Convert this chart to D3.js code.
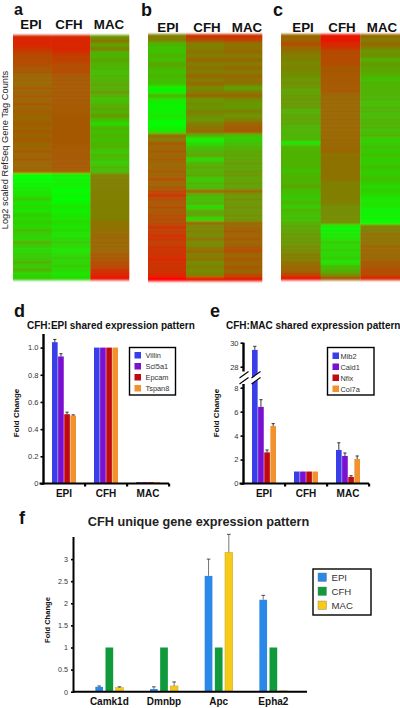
<!DOCTYPE html>
<html><head><meta charset="utf-8">
<script src="https://cdn.jsdelivr.net/npm/d3@7/dist/d3.min.js"></script>
<style>html,body{margin:0;padding:0;background:#fff}svg{display:block}text{font-family:"Liberation Sans",Arial,sans-serif}</style>
</head><body><svg id="c" width="400" height="708"></svg>
<script>
// Heatmap rows: 0 = full green, 5 = olive, 10 = full red
const conditions=["EPI","CFH","MAC"];
const aEPI=[8.5,8.5,8.5,8,7.5,7,7,7,6.5,6.5,6,6,6,6.5,6,6.5,6,6.5,6,6.5,6,6,6.5,6,6.5,6,6.5,6,6,6.5,6,6.5,6,6,6.5,0,0,.5,.5,1,1,2,1,1.5,1,2,1.5,2,1.5,2.5,2,1.5,3,2,1.5,2,2,3,2,3,1.5,2];
const aCFH=[8.5,8.5,8.5,8.5,8,7.5,7.5,7,7,7,6.5,6.5,6.5,6.5,6.5,6.5,6.5,6.5,6.5,6.5,6.5,6.5,6.5,6.5,6.5,6.5,6.5,6.5,6.5,6.5,6.5,6.5,6.5,6.5,6.5,.5,.5,.5,.5,0,.5,0,.5,1,.5,1,1,1.5,1,1.5,1,1.5,2,1.5,1,1.5,2,1.5,2,1.5,1,1.5];
const aMAC=[4,5.5,3.5,5,3,3,3.5,3,3,2.5,3,3,3.5,3,4,3,2.5,3,3.5,3,4,2.5,1.5,3,2.5,3,2.5,3,3,2,3,2.5,2,3,2.5,5,5,5,5,5,5,5,5,5,5,5,5,5.5,5.5,5.5,6,6,6,6,6,6.5,6.5,7,7,8,8.5,9];
const bEPI=[5,5,3,2.5,2.5,3,2.5,3.5,3,2.5,3,2.5,2.5,.5,.5,3,1,.5,.5,.5,1,.5,0,.5,1,6,5,6.5,6,6.5,6,6.5,6,6,6.5,6,7,6,6.5,7,8,7,6.5,7,6.5,7,7,7,8,7.5,8,8,7.5,8,8,8,8.5,8,8,8,8.5,10];
const bCFH=[8,7,5,5,5.5,5,6,5,5.5,5,6,5,6,4.5,5,6,4,4.5,4,5,4.5,4,5,5.5,6,3,.5,1.5,2.5,3,3.5,1.5,3,3.5,3,3.5,2,3,2.5,6,3,2.5,3,1.5,3.5,3.5,1.5,6,4.5,5,4.5,5.5,4.5,5,6,5,5.5,4.5,5,4.5,5,9];
const bMAC=[8,7.5,5.5,5.5,6,5,6,5,6,5,6,5.5,5.5,3.5,5,6,4.5,4,4,5,4,5,6,6.5,6.5,2.5,2,2.5,3,3.5,3.5,3.5,4,3.5,4,4,3.5,4,3.5,6,4,4.5,4,4.5,4,4.5,4,6,6,6.5,6,6.5,6,6.5,7,6,6.5,6,6.5,6,7,9];
const cEPI=[6,6,7,6,5.5,5,5,4.5,5,4.5,4.5,4,4.5,4,3.5,4,4,4,4,3,3.5,3.5,3.5,3,3,3,3,1,3,3,3,3,3,3,2.5,3,3,3,3.5,2.5,2.5,2,3,2,3,2.5,2.5,3,3.5,3.5,4,4,4,4.5,4.5,5,5,5.5,6,6,7,9];
const cCFH=[9,9,8.5,8,7,7,7,7,6.5,6.5,6.5,6.5,6.5,6.5,6.5,6,6,6,6,6,6,6,6,6,6,6,6,6,6,6,5.5,5.5,5.5,5.5,5.5,5.5,5.5,5,5,5,5,5,5,4.5,4.5,4.5,4.5,4.5,.5,.5,1,1,2,1.5,2,1.5,2,1,2.5,3,4,6.5];
const cMAC=[6,5,6,5,4,4.5,3,4,3.5,3.5,3,2.5,3,3,3,3,3,2.5,3,3,2.5,3,3,3,2.5,3,2,2,2.5,2,2.5,2,2,2.5,2,2,2.5,2,1.5,2,1.5,1,1,1,.5,.5,.5,0,5,5,5.5,5.5,5.5,6,6,6,6,6.5,6.5,7,7,8.5];

// Panel d
const dGenes=["Villin","Scl5a1","Epcam","Tspan8"];
const dVillin=[1.04,1,.01], dScl5a1=[.935,1,.01], dEpcam=[.51,1,.01], dTspan8=[.5,1,.01];
const dVillinTop=[1.06,1,.01], dScl5a1Top=[.955,1,.01], dEpcamTop=[.525,1,.01], dTspan8Top=[.505,1,.01];
const dTicks=[0,.2,.4,.6,.8,1];
const dTickLabels=["0","0.2","0.4","0.6","0.8","1.0"];
// Panel e
const eGenes=["Mib2","Cald1","Nfix","Col7a"];
const eMib2=[29.4,1,2.8], eCald1=[6.4,1,2.3], eNfix=[2.6,1,.55], eCol7a=[4.8,1,2.05];
const eMib2Top=[29.7,1,3.4], eCald1Top=[7,1,2.55], eNfixTop=[2.8,1,.65], eCol7aTop=[5,1,2.3];
const eTicks=[0,2,4,6,8,28,30];
// Panel f
const fGenes=["Camk1d","Dmnbp","Apc","Epha2"];
const fEPI=[.11,.06,2.62,2.08], fCFH=[1,1,1,1], fMAC=[.09,.13,3.15,.02];
const fEPITop=[.13,.11,3,2.18], fMACTop=[.11,.22,3.56,.02];
const fTicks=[0,.5,1,1.5,2,2.5,3];

const svg=d3.select("#c");
svg.append("defs").append("filter").attr("id","soft")
  .attr("filterUnits","userSpaceOnUse").attr("x",0).attr("y",0).attr("width",400).attr("height",300)
  .append("feGaussianBlur").attr("stdDeviation","0.3 1");
const heat=d3.scaleLinear().domain([0,5,10]).range(["#00ff00","#807f00","#ff0000"]);
const heatLayer=svg.append("g").attr("filter","url(#soft)");

function txt(x,y,s,size,o={}){
  return svg.append("text").attr("x",x).attr("y",y).text(s)
    .attr("font-size",size).attr("font-weight",o.w||"normal").attr("fill",o.c||"#111")
    .attr("text-anchor",o.a||"start")
    .attr("transform",o.r?`rotate(${o.r} ${x} ${y})`:null);
}

function heatmap(cols,x0,x1,y0,y1,labelX,labelY){
  const x=d3.scaleBand().domain(conditions).range([x0,x1]);
  const y=d3.scaleBand().domain(d3.range(cols[0].length)).range([y0,y1]);
  cols.forEach((col,ci)=>{
    heatLayer.append("g").selectAll("rect").data(col).join("rect")
      .attr("x",x(conditions[ci])).attr("width",x.bandwidth()+.3)
      .attr("y",(d,i)=>y(i)).attr("height",y.bandwidth()+.3)
      .attr("fill",d=>heat(d));
    txt(labelX[ci],labelY,conditions[ci],13.3,{w:"bold",a:"middle"});
  });
}
heatmap([aEPI,aCFH,aMAC],13,129,35,280,[31,69,109],29);
heatmap([bEPI,bCFH,bMAC],148,262,34,281,[168,207,247],31.5);
heatmap([cEPI,cCFH,cMAC],281,400,34,280,[303,342,382],31.5);

txt(14,14.5,"a",16,{w:"bold"});
txt(141,16,"b",18,{w:"bold"});
txt(273,16,"c",18,{w:"bold"});
txt(8,150,"Log2 scaled RefSeq Gene Tag Counts",9.3,{r:-90,a:"middle",c:"#222"});

const geneColors=["#3a3ee8","#7a10d0","#c00a12","#f2922e"];

function styleAxis(g,size){
  g.select(".domain").remove();
  g.selectAll(".tick line").attr("stroke","#000").attr("stroke-width",1.6);
  g.selectAll(".tick text").attr("font-size",size).attr("fill","#333");
}

function boxLegend(x0,y0,w,h,labels,colors,sw,fs,tx,rowStep,first,stroke){
  svg.append("rect").attr("x",x0).attr("y",y0).attr("width",w).attr("height",h)
    .attr("fill","#fff").attr("stroke","#000").attr("stroke-width",1.4);
  labels.forEach((l,i)=>{
    svg.append("rect").attr("x",x0+5).attr("y",y0+first+i*rowStep).attr("width",sw).attr("height",sw)
      .attr("fill",colors[i]).attr("stroke",stroke||"none").attr("stroke-width",.4);
    txt(tx,y0+first+i*rowStep+sw-.5,l,fs,{c:"#333"});
  });
}

function groupedBars(seriesVals,seriesTops,xRange,y){
  const x=d3.scaleBand().domain(conditions).range(xRange);
  const inner=d3.scaleBand().domain(d3.range(4)).range([x.bandwidth()/2-12,x.bandwidth()/2+12]).paddingInner(.08);
  seriesVals.forEach((vals,si)=>{
    const g=svg.append("g");
    g.selectAll("rect").data(vals).join("rect")
      .attr("x",(d,i)=>x(conditions[i])+inner(si)).attr("width",inner.bandwidth())
      .attr("y",d=>y(d)).attr("height",d=>y(0)-y(d)).attr("fill",geneColors[si]);
    seriesTops[si].forEach((t,i)=>{
      if(t<=vals[i])return;
      const cx=x(conditions[i])+inner(si)+inner.bandwidth()/2;
      g.append("path").attr("d",`M${cx},${y(vals[i])}V${y(t)}M${cx-1.6},${y(t)}H${cx+1.6}`)
        .attr("stroke","#222").attr("stroke-width",.9).attr("fill","none");
    });
  });
  return x;
}

function groupAxis(x,y,axisX,end){
  const g=svg.append("g").attr("transform",`translate(0,${y(0)})`)
    .call(d3.axisBottom(x).tickSize(0).tickPadding(6));
  g.select(".domain").remove();
  g.selectAll(".tick text").attr("font-size",10).attr("font-weight","bold").attr("fill","#111");
  svg.append("line").attr("x1",axisX-4).attr("x2",end).attr("y1",y(0)).attr("y2",y(0))
    .attr("stroke","#000").attr("stroke-width",2.2);
  x.domain().forEach(c=>{
    const b=x(c)+x.bandwidth();
    svg.append("rect").attr("x",b-1).attr("y",y(0)).attr("width",2.2).attr("height",3).attr("fill","#000");
  });
}

// Panel d
const yD=d3.scaleLinear().domain([0,1.1]).range([483.5,334]);
const xD=groupedBars([dVillin,dScl5a1,dEpcam,dTspan8],[dVillinTop,dScl5a1Top,dEpcamTop,dTspan8Top],[43,169],yD);
const gD=svg.append("g").attr("transform","translate(43.5,0)")
  .call(d3.axisLeft(yD).tickValues(dTicks).tickSize(3).tickPadding(2).tickFormat((d,i)=>dTickLabels[i]));
styleAxis(gD,7.5);
svg.append("line").attr("x1",43.5).attr("x2",43.5).attr("y1",yD(1.1)).attr("y2",yD(0)+1).attr("stroke","#000").attr("stroke-width",2.4);
groupAxis(xD,yD,43.5,169);
txt(14,317,"d",18,{w:"bold"});
txt(27,328.5,"CFH:EPI shared expression pattern",10,{w:"bold"});
txt(19,413,"Fold Change",8,{r:-90,a:"middle",w:"bold"});
boxLegend(129.5,347.5,46,47.5,dGenes,geneColors,6.5,7.4,145.5,11,4.5);

// Panel e
const yE=d3.scaleLinear().domain([0,8,8.3,27.6,28,30]).range([483.5,387.7,384,371.5,366.7,342.7]);
const xE=groupedBars([eMib2,eCald1,eNfix,eCol7a],[eMib2Top,eCald1Top,eNfixTop,eCol7aTop],[243,369],yE);
const gE=svg.append("g").attr("transform","translate(243.5,0)")
  .call(d3.axisLeft(yE).tickValues(eTicks).tickSize(3).tickPadding(2).tickFormat(d3.format("d")));
styleAxis(gE,7.5);
[[8.3,0],[27.6,30]].forEach(([a,b])=>{
  svg.append("line").attr("x1",243.5).attr("x2",243.5).attr("y1",yE(a)).attr("y2",a<10?yE(0)+1:yE(b))
    .attr("stroke","#000").attr("stroke-width",2.4);
});
[[239.5,248.5],[251.5,260.5]].forEach(([x1,x2])=>{
  svg.append("path").attr("d",`M${x1},${yE(27.6)+6.5}L${x2},${yE(27.6)}L${x2},${yE(8.3)-6.5}L${x1},${yE(8.3)}Z`)
    .attr("fill","#fff");
  [[yE(27.6)+6.5,yE(27.6)],[yE(8.3),yE(8.3)-6.5]].forEach(([a,b])=>{
    svg.append("line").attr("x1",x1).attr("x2",x2).attr("y1",a).attr("y2",b).attr("stroke","#000").attr("stroke-width",1.1);
  });
});
groupAxis(xE,yE,243.5,369);
txt(210,317,"e",18,{w:"bold"});
txt(226,328.5,"CFH:MAC shared expression pattern",10,{w:"bold"});
txt(219,413,"Fold Change",8,{r:-90,a:"middle",w:"bold"});
boxLegend(327.5,347.5,46.5,47.5,eGenes,geneColors,6.5,7.4,340.5,11,5);

// Panel f
const yF=d3.scaleLinear().domain([0,3.5]).range([691.7,537]);
const xF=d3.scaleBand().domain(fGenes).range([82,300.7]);
const fCond=d3.scaleBand().domain(conditions).range([xF.bandwidth()/2-14,xF.bandwidth()/2+14]).paddingInner(.24);
const fColors=["#2a88e8","#0f9a3c","#f7ca18"];
[fEPI,fCFH,fMAC].forEach((vals,si)=>{
  svg.append("g").selectAll("rect").data(vals).join("rect")
    .attr("x",(d,i)=>xF(fGenes[i])+fCond(conditions[si])).attr("width",fCond.bandwidth())
    .attr("y",d=>yF(d)).attr("height",d=>yF(0)-yF(d)).attr("fill",fColors[si])
    .attr("stroke",si==2?"#b8941a":"none").attr("stroke-width",.4);
});
[[fEPI,fEPITop,0],[fMAC,fMACTop,2]].forEach(([vals,tops,si])=>{
  tops.forEach((t,i)=>{
    if(t<=vals[i])return;
    const cx=xF(fGenes[i])+fCond(conditions[si])+fCond.bandwidth()/2;
    svg.append("path").attr("d",`M${cx},${yF(vals[i])}V${yF(t)}`).attr("stroke","#777").attr("stroke-width",1).attr("fill","none");
    svg.append("path").attr("d",`M${cx-1.8},${yF(t)}H${cx+1.8}`).attr("stroke","#222").attr("stroke-width",.8);
  });
});
const gF=svg.append("g").attr("transform","translate(73.5,0)")
  .call(d3.axisLeft(yF).tickValues(fTicks).tickSize(2.5).tickPadding(3).tickFormat(d3.format("")));
styleAxis(gF,7.2);
svg.append("line").attr("x1",73.5).attr("x2",73.5).attr("y1",yF(3.5)).attr("y2",yF(0)+1).attr("stroke","#000").attr("stroke-width",2);
svg.append("line").attr("x1",73).attr("x2",307).attr("y1",yF(0)).attr("y2",yF(0)).attr("stroke","#000").attr("stroke-width",2);
const gFx=svg.append("g").attr("transform",`translate(0,${yF(0)})`).call(d3.axisBottom(xF).tickSize(0).tickPadding(6));
gFx.select(".domain").remove();
gFx.selectAll(".tick text").attr("font-size",10).attr("font-weight","bold").attr("fill","#111");
txt(19,524,"f",18,{w:"bold"});
txt(198.5,526,"CFH unique gene expression pattern",12.7,{w:"bold",a:"middle",c:"#222"});
txt(49.5,620,"Fold Change",7.6,{r:-90,a:"middle",w:"bold"});
boxLegend(313,569,58,46,conditions,fColors,8.5,9.6,331.5,14,4,"#777");
</script></body></html>
